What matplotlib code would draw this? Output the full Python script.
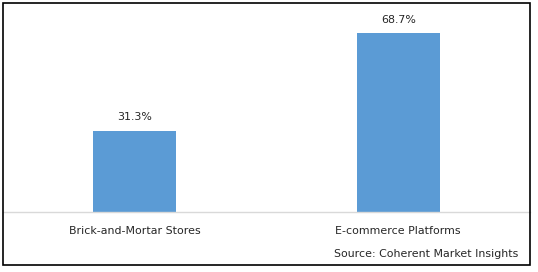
import matplotlib.pyplot as plt
from matplotlib.patches import Rectangle

categories = ["Brick-and-Mortar Stores", "E-commerce Platforms"]
shares = [31.3, 68.7]
value_labels = ["31.3%", "68.7%"]
source_text = "Source: Coherent Market Insights"

W, H = 538, 272
fig = plt.figure(figsize=(W / 100, H / 100), dpi=100)

# outer frame
fig.patches.append(Rectangle((3 / W, 1 - 265 / H), 527 / W, 262 / H,
                             transform=fig.transFigure, fill=False,
                             edgecolor="black", linewidth=1.2))

# plot area: baseline at y=212, spans x 3..530
ax = fig.add_axes([3 / W, 1 - 212 / H, 527 / W, 195 / H])
x = list(range(len(categories)))
bars = ax.bar(x, shares, width=0.315, color="#5B9BD5")
ax.set_xlim(-0.5, 1.5)
ax.set_ylim(0, 75)

for s in ["top", "left", "right"]:
    ax.spines[s].set_visible(False)
ax.spines["bottom"].set_color("#d9d9d9")
ax.spines["bottom"].set_linewidth(1.0)
ax.set_yticks([])
ax.set_xticks(x)
ax.set_xticklabels(categories, fontsize=7.9, color="#262626")
ax.tick_params(axis="x", length=0, pad=10)

for b, lab in zip(bars, value_labels):
    ax.annotate(lab, (b.get_x() + b.get_width() / 2, b.get_height()),
                xytext=(0, 6), textcoords="offset points",
                ha="center", va="bottom", fontsize=7.9, color="#262626")

fig.text(518 / W, 1 - 254 / H, source_text, ha="right", va="center",
         fontsize=7.9, color="#262626")

fig.savefig("out.png", dpi=100)
